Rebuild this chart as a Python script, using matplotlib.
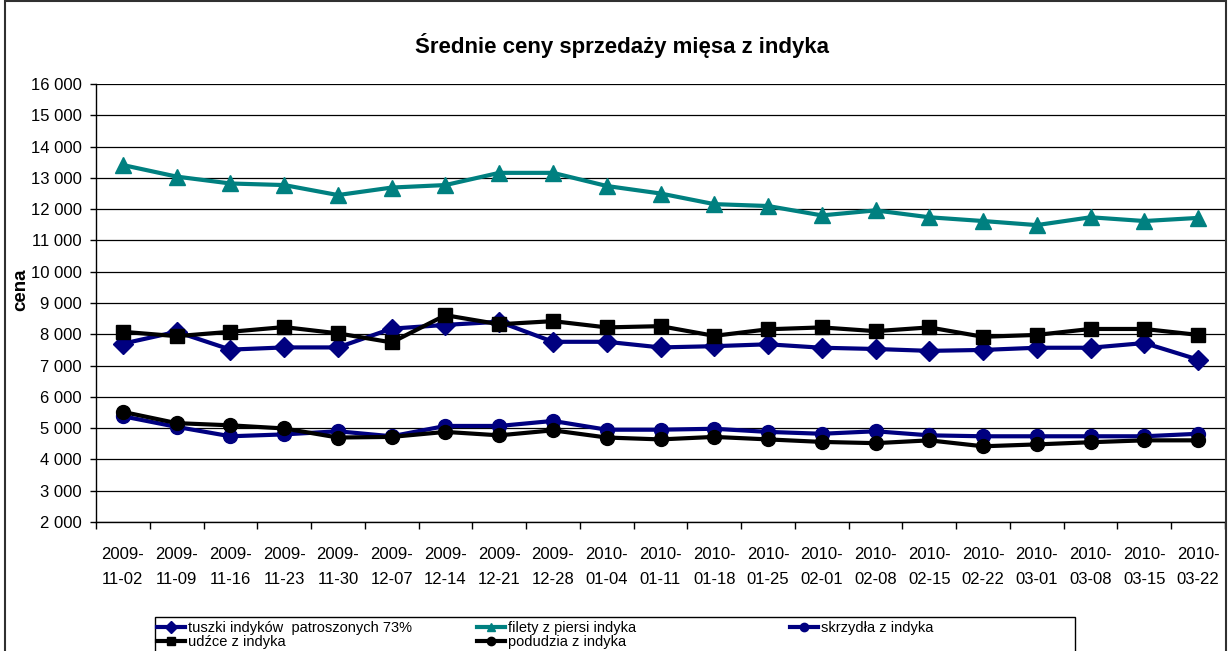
import numpy as np
import matplotlib
matplotlib.use('Agg')
from matplotlib import pyplot as plt
from matplotlib.lines import Line2D
from matplotlib.patches import Rectangle

plt.rcParams['font.family'] = ['Liberation Sans', 'DejaVu Sans']

# daty notowan
daty = ['2009-\n11-02', '2009-\n11-09', '2009-\n11-16', '2009-\n11-23', '2009-\n11-30',
        '2009-\n12-07', '2009-\n12-14', '2009-\n12-21', '2009-\n12-28', '2010-\n01-04',
        '2010-\n01-11', '2010-\n01-18', '2010-\n01-25', '2010-\n02-01', '2010-\n02-08',
        '2010-\n02-15', '2010-\n02-22', '2010-\n03-01', '2010-\n03-08', '2010-\n03-15',
        '2010-\n03-22']

# ceny
tuszki = [7700, 8080, 7510, 7580, 7580, 8180, 8300, 8400, 7760, 7760, 7580,
          7620, 7680, 7570, 7530, 7470, 7500, 7570, 7570, 7720, 7190]
filety = [13410, 13040, 12820, 12770, 12450, 12690, 12770, 13160, 13160, 12740, 12500,
          12160, 12100, 11800, 11960, 11740, 11620, 11490, 11740, 11620, 11720]
skrzydla = [5380, 5040, 4740, 4800, 4900, 4740, 5070, 5070, 5230, 4950, 4950,
            4980, 4880, 4820, 4900, 4770, 4740, 4740, 4740, 4740, 4820]
udzce = [8080, 7940, 8080, 8230, 8030, 7740, 8610, 8320, 8420, 8220, 8260,
         7950, 8160, 8220, 8100, 8220, 7920, 7980, 8170, 8170, 7980]
podudzia = [5520, 5160, 5090, 4990, 4700, 4720, 4880, 4770, 4930, 4700, 4640,
            4720, 4640, 4560, 4520, 4610, 4420, 4480, 4550, 4610, 4610]

nazwy = ['tuszki indyków  patroszonych 73%', 'filety z piersi indyka',
         'skrzydła z indyka', 'udźce z indyka', 'podudzia z indyka']

navy = '#000080'
teal = '#008080'

W, H = 1229, 651
fig = plt.figure(figsize=(W / 100, H / 100), dpi=100)
ax = fig.add_axes([96 / W, 1 - 522 / H, (1225 - 96) / W, (522 - 84) / H])

x = np.arange(len(daty))
serie = [
    (tuszki, navy, 'D', 10),
    (filety, teal, '^', 11),
    (skrzydla, navy, 'o', 10),
    (udzce, 'black', 's', 10),
    (podudzia, 'black', 'o', 10),
]
uchwyty = []
for (y, kolor, m, ms), nazwa in zip(serie, nazwy):
    ax.plot(x, y, color=kolor, lw=3, marker=m, ms=ms, mfc=kolor, mec=kolor,
            solid_joinstyle='miter', zorder=3)
    uchwyty.append(Line2D([], [], color=kolor, lw=3, marker=m, ms=6, mfc=kolor, mec=kolor))

ax.set_xlim(-0.5, len(daty) - 0.5)
ax.set_ylim(2000, 16000)
ax.set_yticks(np.arange(2000, 16001, 1000))
ax.set_yticklabels(['{:,}'.format(v).replace(',', ' ') for v in range(2000, 16001, 1000)])
ax.yaxis.grid(True, color='black', lw=0.9)
ax.set_axisbelow(True)

ax.set_xticks(np.arange(-0.5, len(daty), 1.0))
ax.set_xticklabels([])
ax.set_xticks(x, minor=True)
ax.set_xticklabels(daty, minor=True, linespacing=1.85)
ax.tick_params(axis='x', which='major', length=5, width=1, direction='out')
ax.tick_params(axis='x', which='minor', length=0, pad=18, labelsize=12)
ax.tick_params(axis='y', length=4, width=1, direction='out', pad=6, labelsize=12)

for s in ['top', 'right']:
    ax.spines[s].set_visible(False)
for s in ['left', 'bottom']:
    ax.spines[s].set_color('black')
    ax.spines[s].set_linewidth(1)

fig.text(622 / W, 1 - 46 / H, 'Średnie ceny sprzedaży mięsa z indyka',
         ha='center', va='center', fontsize=16, fontweight='bold')
fig.text(21 / W, 1 - 290 / H, 'cena', rotation=90, ha='center', va='center',
         fontsize=13.5, fontweight='bold')

# ramka wykresu
fig.patches.append(Rectangle((5 / W, -0.05), (1226 - 5) / W, 1.05 - 1.5 / H,
                             transform=fig.transFigure, fill=False,
                             ec='#303030', lw=1.5, clip_on=False))

# legenda
fig.patches.append(Rectangle((155 / W, -0.05), (1075 - 155) / W, 0.05 + 1 - 617 / H,
                             transform=fig.transFigure, fill=False,
                             ec='black', lw=1, clip_on=False))
kol = [([0, 3], 157), ([1, 4], 477), ([2], 790)]
for idx, px in kol:
    fig.legend([uchwyty[i] for i in idx], [nazwy[i] for i in idx],
               loc='upper left', bbox_to_anchor=(px / W, 1 - 621 / H),
               frameon=False, borderpad=0, borderaxespad=0, handlelength=1.9,
               handletextpad=0.25, labelspacing=0.0,
               prop={'size': 10.5})

fig.savefig('out.png', dpi=100)
